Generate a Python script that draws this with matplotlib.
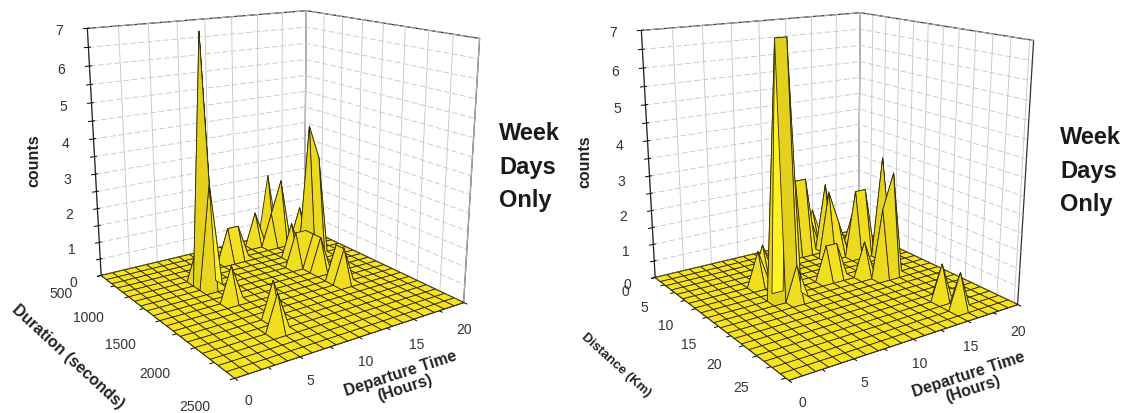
import numpy as np
import matplotlib
matplotlib.use('Agg')
import matplotlib.pyplot as plt
from mpl_toolkits.mplot3d import proj3d

plt.rcParams['font.family'] = ['Liberation Sans', 'DejaVu Sans']

W, H = 1125, 414

# left panel, duration vs departure hour
dur_hours = [6, 6, 6, 6, 10, 11, 14, 15, 16, 16, 18, 16, 17, 15, 14, 15, 15, 15, 15, 15, 7, 6]
dur_values = [1100, 1200, 1000, 1500, 800, 800, 600, 700, 500, 700, 700, 1100, 1100, 1000, 1200, 1200, 1300, 1400, 1600, 1700, 1900, 2100]
dur_counts = [7, 3, 1, 1, 1, 1, 1, 1, 2, 2, 1, 4, 3, 1, 1, 1, 1, 1, 1, 1, 1, 1]

# right panel, distance vs departure hour
dist_hours = [6, 7, 7, 6, 7, 12, 13, 14, 15, 15, 14, 11, 12, 15, 16, 17, 18, 18, 16, 15, 14, 18, 16, 16]
dist_values = [12.6, 12.6, 14, 8.4, 7, 2.8, 2.8, 1.4, 0, 2.8, 5.6, 11.2, 11.2, 5.6, 7, 7, 2.8, 8.4, 14, 14, 12.6, 9.8, 22.4, 25.2]
dist_counts = [7, 7, 1, 1, 1, 2.3, 2.3, 1, 1, 2, 2, 1, 1, 1, 2, 2, 1, 3, 3, 2, 1, 1, 1, 1]

hour_grid = np.arange(0, 21)
dur_grid = np.arange(500, 2501, 100)
dist_grid = np.linspace(0, 28, 21)

hour_ticks = [0, 5, 10, 15, 20]
dur_ticks = [500, 1000, 1500, 2000, 2500]
dist_ticks = [0, 5, 10, 15, 20, 25]
count_ticks = [0, 1, 2, 3, 4, 5, 6, 7]


def cell_colors(Z):
    # flat yellow, flanks a little lighter or darker by slope
    dx = (Z[:-1, 1:] + Z[1:, 1:] - Z[:-1, :-1] - Z[1:, :-1]) / 2
    dy = (Z[1:, :-1] + Z[1:, 1:] - Z[:-1, :-1] - Z[:-1, 1:]) / 2
    f = np.clip(1 - 0.025 * dx + 0.015 * dy, 0.92, 1.06)
    base = np.array([0.97, 0.89, 0.13])
    rgb = np.clip(f[..., None] * base, 0, 1)
    return np.dstack([rgb, np.ones(f.shape)])


def tick_text(ax, x, y, z, s, dx, dy):
    # mplot3d pushes its tick labels the wrong way for this view, place them by hand
    px, py, _ = proj3d.proj_transform(x, y, z, ax.get_proj())
    ax.annotate(s, xy=(px, py), xytext=(dx, -dy), textcoords='offset pixels', ha='center', va='center',
                fontsize=10, color='#333333', annotation_clip=False)


def panel(px, py, ygrid, hours, values, counts, ymajor, yticks, yoff):
    side = 452
    ax = fig.add_axes([px / W, py / H, side / W, side / H], projection='3d')
    ax.set_proj_type('persp', focal_length=0.38)
    ax.view_init(elev=16, azim=-124.5)
    ax.set_box_aspect((1, 1, 0.98))
    ax.patch.set_alpha(0)

    Z = np.zeros((len(ygrid), len(hour_grid)))
    for h, v, c in zip(hours, values, counts):
        Z[np.abs(ygrid - v).argmin(), np.abs(hour_grid - h).argmin()] = c
    X, Y = np.meshgrid(hour_grid, ygrid)
    ax.plot_surface(X, Y, Z, rstride=1, cstride=1, facecolors=cell_colors(Z), edgecolor='#2e2a08',
                    linewidth=0.6, shade=False)

    ax.set_xlim(0, 20, view_margin=0)
    ax.set_ylim(ygrid[-1], ygrid[0], view_margin=0)
    ax.set_zlim(0, 7, view_margin=0)

    ax.set_xticks(np.arange(0, 20.1, 2.5))
    ax.set_yticks(ymajor)
    ax.set_zticks(np.arange(0, 7.1, 0.5))
    ax.set_xticklabels([])
    ax.set_yticklabels([])
    ax.set_zticklabels([])

    for axis in (ax.xaxis, ax.yaxis, ax.zaxis):
        axis.set_pane_color((1, 1, 1, 1))
        axis.pane.set_edgecolor('#333333')
        axis.pane.set_linewidth(0.9)
        axis.line.set_color('#222222')
        axis.line.set_linewidth(0.9)
        axis._axinfo['tick']['linewidth'] = {True: 0.7, False: 0.7}
        axis._axinfo['grid'].update(color='#c4c4c4', linewidth=0.6)
    ax.zaxis._axinfo['grid'].update(linestyle=(0, (7, 3)))

    for i, t in enumerate(hour_ticks):
        tick_text(ax, t, ygrid[-1], 0, str(t), 14 - 3.5 * i, 22 + i)
    for i, t in enumerate(yticks):
        tick_text(ax, 0, t, 0, str(t), yoff[0], yoff[1] + 2.5 * (len(yticks) - 1 - i) * yoff[2])
    for t in count_ticks:
        tick_text(ax, 0, ygrid[0], t, str(t), -28, 7 - 0.7 * t)
    return ax


fig = plt.figure(figsize=(W / 100, H / 100), dpi=100)

panel(44, 15, dur_grid, dur_hours, dur_values, dur_counts, np.arange(500, 2501, 250), dur_ticks, (-40, 28, -1))
panel(598, 13, dist_grid, dist_hours, dist_values, dist_counts, np.arange(0, 27.6, 2.5), dist_ticks, (-30, 20, -0.5))


def label(x, y, s, **kw):
    fig.text(x / W, 1 - y / H, s, ha='center', va='center', color='#222222', **kw)


label(34, 161, 'counts', rotation=90, fontsize=11.5, fontweight='bold')
label(68, 357, 'Duration (seconds)', rotation=-42.5, fontsize=11.5, fontweight='bold')
label(403, 381, 'Departure Time\n(Hours)', rotation=18, fontsize=11.5, fontweight='bold', linespacing=0.95)

label(585, 162, 'counts', rotation=90, fontsize=11.5, fontweight='bold')
label(616, 365, 'Distance (Km)', rotation=-42, fontsize=9.5, fontweight='bold')
label(971, 382, 'Departure Time\n(Hours)', rotation=18, fontsize=11.5, fontweight='bold', linespacing=0.95)

for x0, y0 in ((499, 134), (1060, 138)):
    for i, word in enumerate(['Week', 'Days', 'Only']):
        fig.text(x0 / W, 1 - (y0 + i * 33.5) / H, word, ha='left', va='center',
                 fontsize=17, fontweight='bold', color='#1a1a1a')

fig.savefig('out.png', dpi=100)
